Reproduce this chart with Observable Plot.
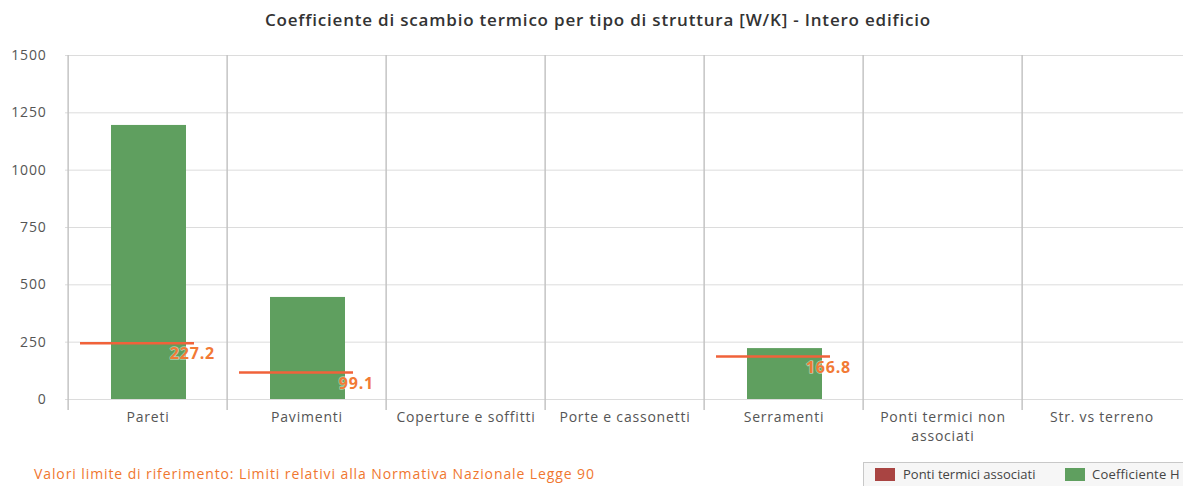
<!DOCTYPE html>
<html>
<head>
<meta charset="utf-8">
<script src="https://cdn.jsdelivr.net/npm/d3@7"></script>
<script src="https://cdn.jsdelivr.net/npm/@observablehq/plot@0.6"></script>
<style>
  html, body { margin: 0; padding: 0; background: #fff; }
  #wrap { position: relative; width: 1183px; height: 486px; overflow: hidden; font-family: "Open Sans", sans-serif; }
  #title { position: absolute; top: 8px; left: 0; width: 1196px; text-align: center; font-size: 17px; font-weight: 600; color: #333; letter-spacing: 0.8px; }
  #chart { position: absolute; top: 0; left: 0; }
  #footer { position: absolute; left: 34px; top: 464px; font-size: 14px; color: #f0772f; letter-spacing: 0.9px; }
  #legend { position: absolute; left: 863px; top: 462px; width: 340px; height: 40px; border: 1px solid #c8c8c8; background: #f6f6f6; font-size: 13px; color: #444; }
  .sw { position: absolute; top: 5px; width: 20px; height: 13px; }
  .lt { position: absolute; top: 2px; white-space: nowrap; }
</style>
</head>
<body>
<div id="wrap">
  <div id="title">Coefficiente di scambio termico per tipo di struttura [W/K] - Intero edificio</div>
  <div id="chart"></div>
  <div id="footer">Valori limite di riferimento: Limiti relativi alla Normativa Nazionale Legge 90</div>
  <div id="legend">
    <div class="sw" style="left:11px;background:#a94442;"></div>
    <div class="lt" style="left:39px;">Ponti termici associati</div>
    <div class="sw" style="left:201px;background:#5f9f5f;"></div>
    <div class="lt" style="left:228px;letter-spacing:0.2px;">Coefficiente H</div>
  </div>
</div>
<script>
const categories = ["Pareti", "Pavimenti", "Coperture e soffitti", "Porte e cassonetti", "Serramenti", "Ponti termici non associati", "Str. vs terreno"];
const coefficienteH = [1195, 445, 0, 0, 222, 0, 0];
const limitCategories = ["Pareti", "Pavimenti", "Serramenti"];
const limitLineValues = [245, 118, 188];
const limitLabels = ["227.2", "99.1", "166.8"];
const yTicks = [0, 250, 500, 750, 1000, 1250, 1500];

const bars = categories.map((c, i) => ({category: c, value: coefficienteH[i]})).filter(d => d.value > 0);
const limits = limitCategories.map((c, i) => ({category: c, value: limitLineValues[i], label: limitLabels[i]}));

const W = 1183, H = 486, ML = 65, MR = 0;
const step = (W - ML - MR) / categories.length;

const plot = Plot.plot({
  width: W,
  height: H,
  marginTop: 55,
  marginBottom: 87,
  marginLeft: ML,
  marginRight: MR,
  style: {fontFamily: "Open Sans, sans-serif", background: "transparent", letterSpacing: "0.8px"},
  x: {domain: categories, padding: 0},
  y: {domain: [0, 1500]},
  marks: [
    Plot.gridY(yTicks, {stroke: "#dcdcdc", strokeOpacity: 1}),
    Plot.ruleX(categories, {x: d => d, dx: -step / 2, stroke: "#c4c4c4", strokeWidth: 1.5, insetBottom: -11}),
    Plot.barY(bars, {x: "category", y: "value", fill: "#5f9f5f", insetLeft: 43, insetRight: 41}),
    Plot.tickY(limits, {x: "category", y: "value", stroke: "#f0623a", strokeWidth: 2.5, insetLeft: 12, insetRight: 33}),
    Plot.text(limits, {x: "category", y: "value", text: "label", dx: 67, dy: 11, textAnchor: "end", fill: "#f27a35", fontWeight: "bold", fontSize: 16, stroke: "#fff", strokeWidth: 1.5, strokeOpacity: 0.5}),
    Plot.axisY(yTicks, {tickSize: 0, tickPadding: 19, fontSize: 14, color: "#555", label: null, tickFormat: d => String(d)}),
    Plot.axisX({tickSize: 0, tickPadding: 10, fontSize: 14, color: "#555", label: null, lineHeight: 1.3,
      tickFormat: d => d === "Ponti termici non associati" ? "Ponti termici non\nassociati" : d})
  ]
});
document.getElementById("chart").appendChild(plot);
</script>
</body>
</html>
